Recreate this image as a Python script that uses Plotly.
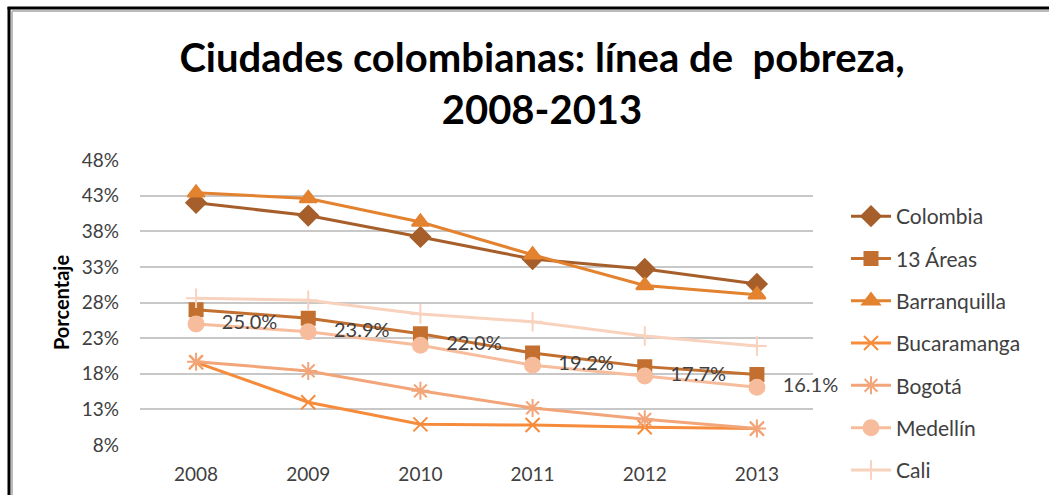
import plotly.graph_objects as go

years = ["2008", "2009", "2010", "2011", "2012", "2013"]
colombia = [42.0, 40.2, 37.2, 34.1, 32.7, 30.6]
areas13 = [27.0, 25.8, 23.6, 20.9, 19.0, 17.9]
barranquilla = [43.4, 42.6, 39.3, 34.7, 30.4, 29.1]
bucaramanga = [19.6, 14.0, 10.9, 10.8, 10.5, 10.3]
bogota = [19.7, 18.4, 15.6, 13.2, 11.6, 10.3]
medellin = [25.0, 23.9, 22.0, 19.2, 17.7, 16.1]
cali = [28.6, 28.3, 26.4, 25.3, 23.3, 21.9]
medellin_labels = ["25.0%", "23.9%", "22.0%", "19.2%", "17.7%", "16.1%"]
yticks = [8, 13, 18, 23, 28, 33, 38, 43, 48]

FONT = "Lato"

series = [
    ("Colombia", colombia, "#A65F2B", "diamond", 15),
    ("13 Áreas", areas13, "#C26F2F", "square", 13),
    ("Barranquilla", barranquilla, "#E3822F", "triangle-up", 15),
    ("Bucaramanga", bucaramanga, "#F58B3B", "x-thin-open", 14),
    ("Bogotá", bogota, "#F3A57A", "asterisk-open", 15),
    ("Medellín", medellin, "#F6BC9C", "circle", 15),
    ("Cali", cali, "#F8D2BC", "cross-thin-open", 14),
]

fig = go.Figure()
for i, (name, vals, col, sym, sz) in enumerate(series):
    if name == "Medellín":
        kw = dict(mode="lines+markers+text", text=["   " + t for t in medellin_labels],
                  textposition="middle right",
                  textfont=dict(family=FONT, size=20, color="#404040"))
    else:
        kw = dict(mode="lines+markers")
    fig.add_trace(go.Scatter(
        x=years, y=vals, name=name, legendgroup=name,
        line=dict(color=col, width=3),
        marker=dict(symbol=sym, size=sz, color=col,
                    line=dict(color=col, width=2)),
        cliponaxis=False, **kw))

ml, mr, mt, mb = 140, 236, 160, 50
W, H = 1049, 495
pw, ph = W - ml - mr, H - mt - mb

def px(x):
    return (x - ml) / pw

def py(y):
    return (H - mb - y) / ph

shapes = [
    dict(type="line", xref="paper", yref="paper", x0=px(12), x1=px(12), y0=py(11), y1=py(495),
         line=dict(color="#BBBBBB", width=2)),
    dict(type="line", xref="paper", yref="paper", x0=px(12), x1=px(1049), y0=py(11), y1=py(11),
         line=dict(color="#BBBBBB", width=2)),
    dict(type="line", xref="paper", yref="paper", x0=px(9), x1=px(9), y0=py(7), y1=py(495),
         line=dict(color="#000000", width=3)),
    dict(type="line", xref="paper", yref="paper", x0=px(7.5), x1=px(1049), y0=py(8), y1=py(8),
         line=dict(color="#000000", width=3)),
]

fig.update_layout(
    width=W, height=H,
    margin=dict(l=ml, r=mr, t=mt, b=mb, autoexpand=False),
    paper_bgcolor="white", plot_bgcolor="white",
    font=dict(family=FONT, color="#404040", size=19),
    title=dict(text="<b>Ciudades colombianas: línea de  pobreza,<br>2008-2013</b>",
               x=542 / W, xanchor="center", y=1 - 72 / H, yanchor="middle",
               font=dict(family=FONT, size=40, color="#000000")),
    xaxis=dict(type="category", range=[-0.5, 5.5], showgrid=False, showline=False,
               zeroline=False, ticks="", ticklabelstandoff=16,
               tickfont=dict(family=FONT, size=19, color="#404040")),
    yaxis=dict(range=[8, 48], tickvals=yticks, ticktext=[f"{v}%" for v in yticks],
               showgrid=True, gridcolor="#C8C8C8", gridwidth=1.5, zeroline=False,
               showline=False, ticks="", ticklabelstandoff=20,
               tickfont=dict(family=FONT, size=19, color="#404040"),
               title=dict(text="<b>Porcentaje</b>", standoff=6,
                          font=dict(family=FONT, size=20, color="#000000"))),
    legend=dict(x=px(846), y=py(196), xanchor="left", yanchor="top",
                font=dict(family=FONT, size=21, color="#404040"),
                tracegroupgap=12, itemwidth=40, bgcolor="rgba(0,0,0,0)",
                maxheight=480),
    shapes=shapes,
    showlegend=True,
)

fig.write_html("out.html")
